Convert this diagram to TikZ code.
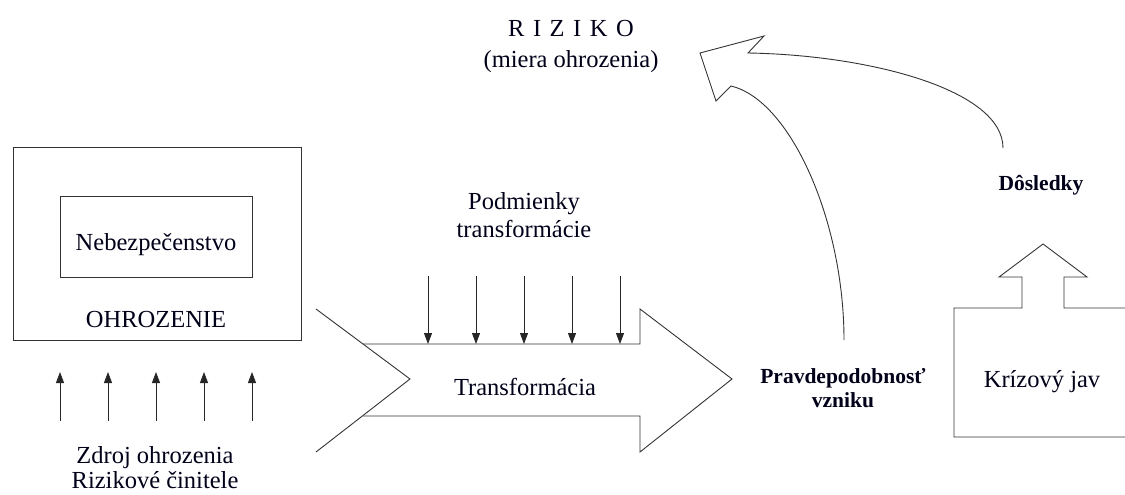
\documentclass[tikz,border=0pt]{standalone}
\usepackage{fontspec}
\setmainfont{Liberation Serif}
\usetikzlibrary{arrows.meta}
\begin{document}
\begin{tikzpicture}[x=1pt,y=-1pt,
  line width=0.9pt,
  every node/.style={inner sep=0pt,outer sep=0pt,text=black!90!blue},
  outline/.style={draw=black!80,line width=0.9pt,line join=miter},
  smallarrow/.style={draw=black!85,line width=0.9pt,-{Triangle[width=8pt,length=11pt]}},
  txt/.style={font=\fontsize{24.5}{28}\selectfont,anchor=base},
  boldtxt/.style={font=\fontsize{21.5}{25}\selectfont\bfseries,anchor=base}]
\useasboundingbox (0,0) rectangle (1125,495);

% Ohrozenie with the inner hazard box
\node[outline,minimum width=288pt,minimum height=193pt] (ohr) at (157,243.5) {};
\node[outline,minimum width=192pt,minimum height=81pt] (neb) at (156,236.5) {};
\node[txt] (nebt) at (156,250) {Nebezpečenstvo};
\node[txt] (ohrt) at (156,327) {OHROZENIE};

% Sources of the threat pushing upwards
\node[txt] (zdroj) at (155,463) {Zdroj ohrozenia};
\node[txt] (rizc) at (155,488) {Rizikové činitele};
\foreach \i/\x in {1/60,2/108,3/156,4/204,5/252}{
  \coordinate (us\i) at (\x,421);
  \coordinate (ue\i) at (\x,372);
  \draw[smallarrow] (us\i) -- (ue\i);
}

% Transformation arrow with a notched tail
\coordinate (t1) at (316,309);
\coordinate (t2) at (410,379);
\coordinate (t3) at (316,452);
\draw[outline] (t1) -- (t2) -- (t3);
\draw[outline] (363,344) -- (640,344) -- (640,309) -- (732,379)
  -- (640,452) -- (640,416) -- (363,416);
\node[txt] (trans) at (525,395) {Transformácia};

% Conditions of the transformation
\node[txt] (podm) at (524,209) {Podmienky};
\node[txt] (podm2) at (524,237) {transformácie};
\foreach \i/\x in {1/428,2/476,3/524,4/572,5/620}{
  \coordinate (ds\i) at (\x,276);
  \coordinate (de\i) at (\x,344);
  \draw[smallarrow] (ds\i) -- (de\i);
}

% Probability and the crisis event
\node[boldtxt] (prav) at (843,383) {Pravdepodobnosť};
\node[boldtxt] (vzn) at (843,407) {vzniku};
\draw[outline] (1125,308) -- (1064,308) -- (1064,277) -- (1087,277) -- (1043,244)
  -- (999,277) -- (1022,277) -- (1022,308) -- (954,308) -- (954,437) -- (1125,437);
\node[txt] (kriz) at (1042,387) {Krízový jav};
\node[boldtxt] (dosl) at (1041,190) {Dôsledky};

% Risk as the result
\node[txt] (riziko) at (571,37) {R\hspace{8.5pt}I\hspace{8.5pt}Z\hspace{8.5pt}I\hspace{8.5pt}K\hspace{8.5pt}O};
\node[txt] (miera) at (571,67) {(miera ohrozenia)};

% Broad curved arrow joining probability and consequences into risk
\draw[outline,line join=miter] (844,340) .. controls (844,220) and (790,100) .. (731,86)
  -- (716,101) -- (700,53) -- (764,36) -- (748,53)
  .. controls (870,55) and (1003,90) .. (1003,148);
\end{tikzpicture}
\end{document}
